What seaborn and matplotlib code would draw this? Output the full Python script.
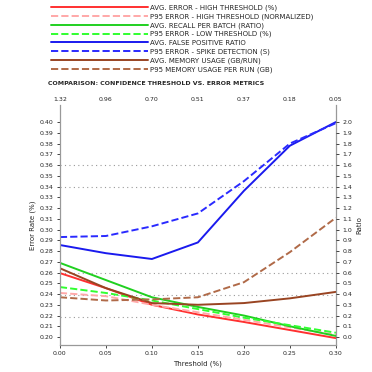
import numpy as np
import pandas as pd
import matplotlib
matplotlib.use("Agg")
import matplotlib.pyplot as plt
import seaborn as sns

# thresholds on the bottom axis, matching values on the top axis
thresholds = [0.00, 0.05, 0.10, 0.15, 0.20, 0.25, 0.30]
top_labels = ["1.32", "0.96", "0.70", "0.51", "0.37", "0.18", "0.05"]

# series values (left axis units)
avg_err_high = [0.2595, 0.2455, 0.230, 0.221, 0.214, 0.2065, 0.199]
p95_err_high = [0.241, 0.238, 0.230, 0.223, 0.216, 0.209, 0.202]
avg_err_low = [0.269, 0.253, 0.237, 0.228, 0.220, 0.210, 0.201]
p95_err_low = [0.2465, 0.241, 0.234, 0.226, 0.218, 0.211, 0.204]
avg_recall = [0.2856, 0.278, 0.2726, 0.288, 0.336, 0.378, 0.400]
p95_recall = [0.293, 0.294, 0.303, 0.315, 0.345, 0.380, 0.399]
avg_cost = [0.264, 0.2455, 0.2316, 0.230, 0.2316, 0.236, 0.242]
p95_cost = [0.237, 0.234, 0.235, 0.237, 0.251, 0.279, 0.311]

labels = [
    "AVG. ERROR - HIGH THRESHOLD (%)",
    "P95 ERROR - HIGH THRESHOLD (NORMALIZED)",
    "AVG. RECALL PER BATCH (RATIO)",
    "P95 ERROR - LOW THRESHOLD (%)",
    "AVG. FALSE POSITIVE RATIO",
    "P95 ERROR - SPIKE DETECTION (S)",
    "AVG. MEMORY USAGE (GB/RUN)",
    "P95 MEMORY USAGE PER RUN (GB)",
]
series = [avg_err_high, p95_err_high, avg_err_low, p95_err_low,
          avg_recall, p95_recall, avg_cost, p95_cost]
colors = ["#ff3030", "#ffa8a8", "#20d020", "#30ff30",
          "#1a1aee", "#2a2aff", "#994422", "#b06a48"]
styles = ["-", "--", "-", "--", "-", "--", "-", "--"]

left_ticks = np.round(np.arange(0.20, 0.4001, 0.01), 2)
right_ticks = np.round(np.arange(0.0, 2.001, 0.1), 1)
ref_levels = [0.360, 0.3395, 0.2595, 0.239, 0.2186]

sns.set_style("white")
plt.rcParams["font.family"] = ["DejaVu Sans"]
plt.rcParams["font.size"] = 5

fig = plt.figure(figsize=(3.72, 3.72), dpi=100)
ax = fig.add_axes([0.161, 0.0726, 0.742, 0.645])

for lvl in ref_levels:
    ax.axhline(lvl, color="#999999", linestyle=(0, (1, 3)), linewidth=0.8, zorder=0)

for vals, lab, c, ls in zip(series, labels, colors, styles):
    sns.lineplot(x=thresholds, y=vals, ax=ax, color=c, linestyle=ls,
                 linewidth=1.4, label=lab)

ylo, yhi = 0.1926, 0.4158
ax.set_xlim(thresholds[0], thresholds[-1])
ax.set_ylim(ylo, yhi)
ax.set_xticks(thresholds)
ax.set_xticklabels([f"{t:.2f}" for t in thresholds])
ax.set_yticks(left_ticks)
ax.set_yticklabels([f"{v:.2f}" for v in left_ticks])
ax.set_xlabel("Threshold (%)", fontsize=5, labelpad=3)
ax.set_ylabel("Error Rate (%)", fontsize=5, labelpad=3)
ax.tick_params(axis="both", labelsize=4.5, length=2.5, width=0.6, pad=2)

for side in ["left", "right", "bottom"]:
    ax.spines[side].set_color("#999999")
    ax.spines[side].set_linewidth(0.9)
ax.spines["top"].set_visible(False)

# right axis, linear mapping of left units
def to_right(v):
    return (v - 0.20) * 10.0

ax2 = ax.twinx()
ax2.set_ylim(to_right(ylo), to_right(yhi))
ax2.set_yticks(right_ticks)
ax2.set_yticklabels([f"{v:.1f}" for v in right_ticks])
ax2.set_ylabel("Ratio", fontsize=5, labelpad=3)
ax2.tick_params(axis="y", labelsize=4.5, length=2.5, width=0.6, pad=2)
for s in ax2.spines.values():
    s.set_visible(False)

# top axis
ax3 = ax.twiny()
ax3.set_xlim(ax.get_xlim())
ax3.set_xticks(thresholds)
ax3.set_xticklabels(top_labels)
ax3.tick_params(axis="x", labelsize=4.5, length=0, pad=2)
for s in ax3.spines.values():
    s.set_visible(False)

handles, labs = ax.get_legend_handles_labels()
ax.legend_.remove()
fig.legend(handles, labs, loc="upper left", bbox_to_anchor=(0.125, 1.0),
           frameon=False, fontsize=5, handlelength=14, handletextpad=0.3,
           labelspacing=0.35, borderaxespad=0.2)

fig.text(0.13, 0.775, "COMPARISON: CONFIDENCE THRESHOLD VS. ERROR METRICS",
         fontsize=4.5, fontweight="bold", ha="left", va="center")

fig.savefig("out.png", dpi=100)
